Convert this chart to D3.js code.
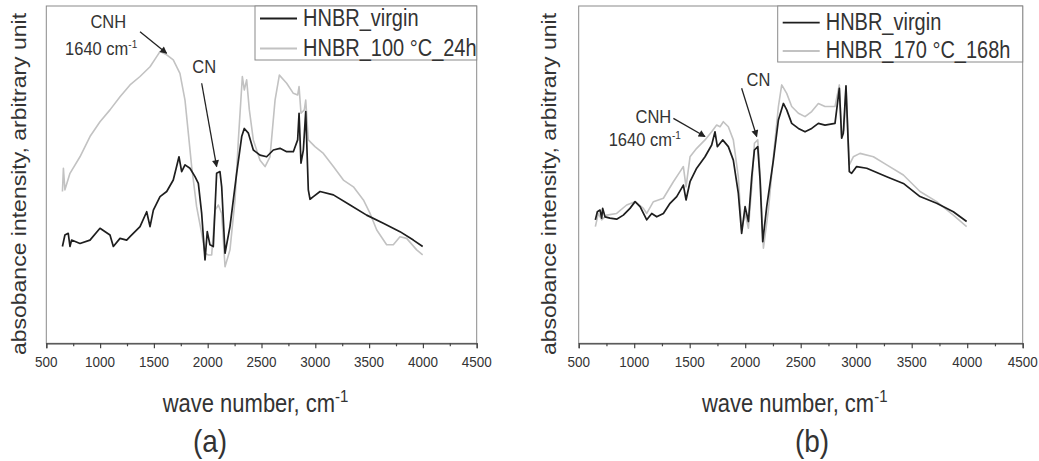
<!DOCTYPE html>
<html>
<head>
<meta charset="utf-8">
<script src="https://cdn.jsdelivr.net/npm/d3@7"></script>
<style>
  body { margin: 0; background: #fff; }
  svg text { font-family: "Liberation Sans", Arial, sans-serif; fill: #333; }
</style>
</head>
<body>
<div id="chart"></div>
<script>
// spectra: [wave number, absorbance (arbitrary)]
const virginA = [[650,28.7],[673,32.1],[704,32.6],[720,28.7],[735,30.6],[813,29.6],[906,30.6],[999,34.1],[1092,32.1],[1123,28.7],[1185,31.1],[1247,30.6],[1278,31.6],[1371,34.6],[1433,39.0],[1464,34.6],[1495,39.5],[1557,43.5],[1619,45.0],[1680,48.4],[1711,52.4],[1733,55.3],[1758,50.9],[1789,52.9],[1835,51.9],[1882,49.4],[1913,47.4],[1944,38.5],[1975,24.7],[1996,33.1],[2021,29.2],[2052,28.7],[2083,50.4],[2114,50.9],[2130,46.4],[2161,26.7],[2207,34.6],[2269,50.4],[2316,61.3],[2340,63.7],[2378,62.3],[2424,57.3],[2486,55.8],[2548,55.3],[2610,57.3],[2672,57.8],[2734,56.8],[2796,56.8],[2836,60.3],[2849,68.2],[2867,53.4],[2889,57.3],[2911,68.7],[2935,45.5],[2951,42.7],[2982,43.5],[3044,45.0],[3168,44.0],[3323,41.0],[3477,38.0],[3632,35.6],[3787,33.1],[3911,30.6],[3998,28.7]];
const agedA = [[650,45.0],[659,51.9],[673,45.5],[720,50.4],[813,55.3],[906,61.3],[999,65.7],[1092,69.2],[1185,73.1],[1278,76.6],[1371,79.1],[1464,82.0],[1526,85.0],[1557,86.5],[1619,85.5],[1680,84.0],[1742,80.0],[1789,72.1],[1820,62.3],[1851,52.4],[1897,40.5],[1944,32.6],[1975,26.7],[2006,26.2],[2037,26.2],[2068,39.5],[2099,41.0],[2130,38.5],[2161,22.7],[2207,27.7],[2254,42.5],[2285,60.3],[2322,79.1],[2340,75.1],[2362,78.1],[2387,69.2],[2424,60.3],[2486,54.3],[2533,52.4],[2579,55.3],[2626,72.1],[2666,79.5],[2734,77.1],[2796,74.1],[2836,73.6],[2849,76.1],[2867,68.2],[2898,69.2],[2911,72.1],[2935,60.3],[2997,58.3],[3075,56.3],[3168,52.4],[3261,48.4],[3354,46.4],[3447,42.5],[3509,38.5],[3571,33.6],[3663,29.2],[3725,29.2],[3787,31.6],[3849,31.1],[3942,27.7],[3998,26.2]];
const virginB = [[650,36.6],[668,39.0],[692,39.5],[707,37.1],[716,40.0],[737,37.5],[782,37.1],[842,36.8],[902,38.0],[962,40.0],[1008,42.0],[1053,40.5],[1113,36.6],[1158,38.5],[1203,37.5],[1263,38.5],[1323,41.5],[1383,43.5],[1443,46.9],[1467,42.5],[1503,47.9],[1563,51.9],[1638,55.3],[1698,58.8],[1728,62.7],[1749,58.3],[1797,60.3],[1848,58.3],[1893,54.3],[1938,44.5],[1968,32.6],[1999,40.5],[2029,36.1],[2059,49.4],[2083,57.3],[2113,58.3],[2134,48.4],[2158,30.1],[2194,40.5],[2254,54.3],[2299,66.2],[2344,71.1],[2374,69.2],[2419,65.2],[2479,63.7],[2539,62.7],[2599,63.7],[2659,65.2],[2719,64.7],[2809,65.2],[2848,75.6],[2869,60.8],[2884,62.3],[2908,76.3],[2938,50.9],[2959,50.4],[3004,52.4],[3095,51.9],[3275,49.4],[3425,47.4],[3575,43.5],[3725,41.5],[3875,39.0],[3995,36.1]];
const agedB = [[650,34.6],[677,38.5],[707,36.6],[752,38.0],[842,38.5],[932,41.0],[1008,42.0],[1083,40.0],[1113,38.5],[1173,42.0],[1263,43.0],[1353,47.9],[1413,50.9],[1443,52.4],[1467,46.4],[1503,55.3],[1563,57.8],[1638,60.3],[1698,62.7],[1743,64.7],[1773,64.2],[1803,65.7],[1848,64.2],[1893,60.3],[1938,49.4],[1968,33.6],[1999,38.5],[2029,34.1],[2059,46.4],[2083,59.3],[2113,60.3],[2134,50.4],[2164,28.2],[2209,39.5],[2254,55.3],[2299,70.2],[2329,76.6],[2374,74.1],[2419,70.2],[2479,68.2],[2539,67.2],[2599,68.7],[2659,71.1],[2719,70.2],[2809,70.2],[2848,76.6],[2869,61.8],[2890,63.2],[2908,76.3],[2938,52.9],[2974,55.3],[3034,56.3],[3155,55.3],[3275,52.9],[3425,49.9],[3575,45.0],[3725,42.0],[3875,38.0],[3995,34.6]];

const majorTicks = [500, 1000, 1500, 2000, 2500, 3000, 3500, 4000, 4500];
const minorTicks = [750, 1250, 1750, 2250, 2750, 3250, 3750, 4250];
const legendA = ["HNBR_virgin", "HNBR_100 °C_24h"];
const legendB = ["HNBR_virgin", "HNBR_170 °C_168h"];

const W = 1039, H = 461;
const SY = 1.15; // the picture is a bit taller than wide, text too

const svg = d3.select("#chart").append("svg")
  .attr("width", W).attr("height", H);

const defs = svg.append("defs");
defs.append("marker")
  .attr("id", "head")
  .attr("viewBox", "0 0 10 10")
  .attr("refX", 9).attr("refY", 5)
  .attr("markerWidth", 8).attr("markerHeight", 7)
  .attr("markerUnits", "userSpaceOnUse")
  .attr("orient", "auto")
  .append("path").attr("d", "M0,0 L10,5 L0,10 Z").attr("fill", "#222");

// text with the slight vertical stretch of the original
function label(g, str, x, y, size, anchor, rot) {
  const t = g.append("text")
    .attr("transform", `translate(${x},${y}) scale(1,${SY})` + (rot ? ` rotate(${rot})` : ""))
    .attr("font-size", size)
    .attr("text-anchor", anchor || "middle");
  return t.text(str);
}

function drawPanel(p) {
  const x = d3.scaleLinear().domain([500, 4500]).range([p.left, p.right]);
  const y = d3.scaleLinear().domain([0, 100]).range([343.3, 6]);
  const g = svg.append("g");

  // frame
  g.append("rect")
    .attr("x", p.left).attr("y", 6)
    .attr("width", p.right - p.left).attr("height", 343.3 - 6)
    .attr("fill", "none").attr("stroke", "#8a8a8a").attr("stroke-width", 1);

  // x axis
  const ax = g.append("g").attr("transform", "translate(0,343.3)");
  ax.call(d3.axisBottom(x).tickValues(majorTicks).tickSize(5).tickFormat(""));
  ax.append("g").call(d3.axisBottom(x).tickValues(minorTicks).tickSize(3).tickFormat(""))
    .select(".domain").remove();
  ax.selectAll("path, line").attr("stroke", "#444").attr("stroke-width", 1.2);

  majorTicks.forEach(v => label(g, v, x(v), 367, 13.5));

  // axis titles
  const xt = label(g, "wave number, cm", (p.left + p.right) / 2 - 6, 412, 22);
  xt.append("tspan").attr("dy", -9).attr("font-size", 15).text("-1");
  label(g, "absobance intensity, arbitrary unit", p.ylabX, 184, 20, "middle", -90);
  label(g, p.tag, p.tagX, 452, 28);

  // spectra
  const line = d3.line().x(d => x(d[0])).y(d => y(d[1]));
  g.append("path").datum(p.aged).attr("d", line)
    .attr("fill", "none").attr("stroke", "#c2c2c2").attr("stroke-width", 1.6)
    .attr("stroke-linejoin", "round");
  g.append("path").datum(p.virgin).attr("d", line)
    .attr("fill", "none").attr("stroke", "#1e1e1e").attr("stroke-width", 1.7)
    .attr("stroke-linejoin", "round");

  // legend
  const L = p.legend;
  g.append("rect").attr("x", L.x).attr("y", 6)
    .attr("width", p.right - L.x).attr("height", L.h)
    .attr("fill", "#fff").attr("stroke", "#8a8a8a").attr("stroke-width", 1);
  [["#1e1e1e", L.y1, p.names[0]], ["#c2c2c2", L.y2, p.names[1]]].forEach(([c, ly, name]) => {
    g.append("line").attr("x1", L.x + 5).attr("x2", L.x + 42)
      .attr("y1", ly).attr("y2", ly)
      .attr("stroke", c).attr("stroke-width", 1.8);
    label(g, name, L.x + 48, ly + 7, 20, "start");
  });

  // annotations
  p.notes.forEach(n => {
    g.append("line")
      .attr("x1", x(n.from[0])).attr("y1", y(n.from[1]))
      .attr("x2", x(n.to[0])).attr("y2", y(n.to[1]))
      .attr("stroke", "#222").attr("stroke-width", 1.3)
      .attr("marker-end", "url(#head)");
  });
  p.texts.forEach(t => {
    const el = label(g, t.s, x(t.at[0]), y(t.at[1]), 16.5);
    if (t.sup) el.append("tspan").attr("dy", -6).attr("font-size", 10).text(t.sup);
  });
}

drawPanel({
  left: 46.3, right: 476.7, ylabX: 26, tag: "(a)", tagX: 210,
  virgin: virginA, aged: agedA, names: legendA,
  legend: { x: 255, h: 54, y1: 18.5, y2: 48.5 },
  notes: [
    { from: [1371, 92.4], to: [1618, 86.0] },
    { from: [1944, 77.1], to: [2083, 52.4] }
  ],
  texts: [
    { s: "CNH", at: [1076, 93.4] },
    { s: "1640 cm", sup: "-1", at: [1010, 85.5] },
    { s: "CN", at: [1968, 80.2] }
  ]
});

drawPanel({
  left: 578.7, right: 1022.7, ylabX: 556, tag: "(b)", tagX: 812,
  virgin: virginB, aged: agedB, names: legendB,
  legend: { x: 777.7, h: 56, y1: 22.7, y2: 51 },
  notes: [
    { from: [1353, 66.7], to: [1638, 61.3] },
    { from: [1968, 75.6], to: [2104, 61.3] }
  ],
  texts: [
    { s: "CNH", at: [1173, 65.2] },
    { s: "1640 cm", sup: "-1", at: [1095, 58.6] },
    { s: "CN", at: [2119, 76.3] }
  ]
});
</script>
</body>
</html>
